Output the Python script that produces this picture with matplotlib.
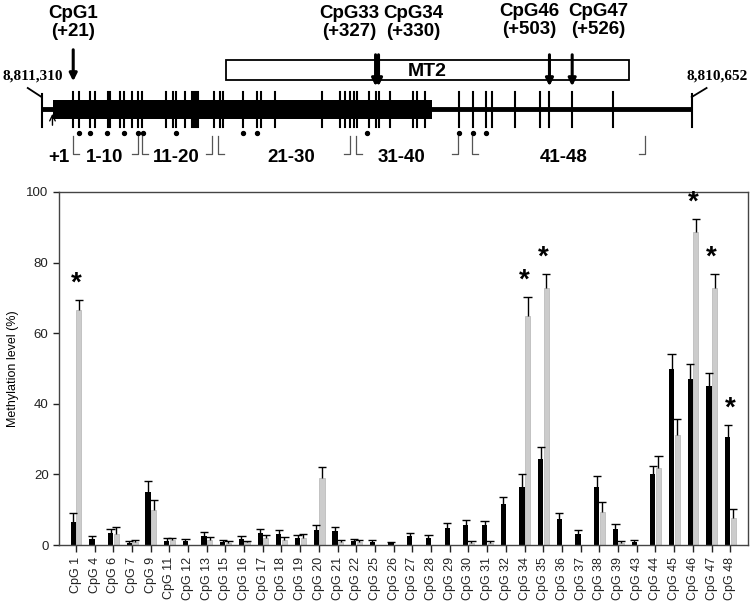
import numpy as np
import matplotlib
matplotlib.use('Agg')
import matplotlib.pyplot as plt
from matplotlib.patches import Rectangle

plt.rcParams['font.family'] = ['Liberation Sans', 'DejaVu Sans']

# bar chart data: CpG sites analysed, mean methylation and upper error
cpg_labels = [1, 4, 6, 7, 9, 11, 12, 13, 15, 16, 17, 18, 19, 20, 21, 22, 25, 26,
              27, 28, 29, 30, 31, 32, 34, 35, 36, 37, 38, 39, 43, 44, 45, 46, 47, 48]
black_vals = [6.4, 1.7, 3.3, 0.5, 15.0, 1.2, 1.0, 2.6, 0.8, 1.7, 3.3, 3.1, 2.1, 4.3, 3.9, 1.2, 0.9, 0.5,
              2.5, 2.0, 4.7, 5.6, 5.7, 11.6, 16.5, 24.3, 7.4, 3.1, 16.5, 4.5, 0.9, 20.1, 49.9, 46.9, 45.0, 30.7]
black_err = [2.8, 0.9, 1.1, 0.5, 3.0, 0.7, 0.6, 1.0, 0.5, 0.8, 1.3, 1.1, 0.7, 1.3, 1.1, 0.4, 0.5, 0.4,
             1.0, 0.7, 1.5, 1.4, 1.2, 2.1, 3.5, 3.6, 1.8, 1.1, 3.1, 1.4, 0.5, 2.4, 4.1, 4.3, 3.7, 3.3]
gray_vals = [66.5, 0, 3.1, 0.8, 9.9, 1.3, 0, 1.4, 0.6, 0.8, 1.9, 1.4, 2.1, 19.1, 0.9, 0.8, 0, 0,
             0, 0, 0, 0.5, 0.5, 0, 65.0, 72.7, 0, 0, 9.3, 0.5, 0, 21.7, 31.2, 88.8, 72.7, 7.7]
gray_err = [3.0, 0, 1.9, 0.5, 2.9, 0.8, 0, 0.8, 0.6, 0.2, 0.9, 0.8, 0.9, 2.9, 0.5, 0.5, 0, 0,
            0, 0, 0, 0.5, 0.7, 0, 5.2, 4.0, 0, 0, 3.0, 0.7, 0, 3.5, 4.4, 3.5, 4.0, 2.4]
star_sites = [1, 34, 35, 46, 47, 48]

# gene map data (bp from +1)
map_start, map_end = -11, 647
coord_left, coord_right = '8,811,310', '8,810,652'
island_start, island_end = 1, 384
mt2_start, mt2_end = 176, 583
cpg_pos = [21, 27, 38, 43, 56, 58, 68, 72, 81, 87, 91, 115, 122, 125, 134, 141, 143, 145, 147, 163,
           170, 173, 193, 207, 211, 225, 273, 291, 296, 301, 305, 308, 320, 327, 330, 342, 365, 369, 377, 411,
           426, 439, 445, 468, 493, 503, 526, 567]
dot_pos = [27, 38, 55, 72, 87, 92, 125, 193, 207, 318, 411, 426, 439]
groups = ['1-10', '11-20', '21-30', '31-40', '41-48']
group_left = [21, 91, 168, 307, 425]
group_right = [87, 161, 301, 410, 600]
group_text_x = [53, 125, 242, 353, 517]
arrow_sites = [21, 327, 330, 503, 526]
arrow_names = ['CpG1', 'CpG33', 'CpG34', 'CpG46', 'CpG47']
arrow_text_x = [21, 300, 365, 483, 552]

fig = plt.figure(figsize=(7.53, 6.04), dpi=100)

# ---- gene map ----
top = fig.add_axes([0, 1 - 180 / 604, 1, 180 / 604])
top.set_xlim(-53.1, 709)
top.set_ylim(180, 0)
top.axis('off')

top.plot([map_start, map_end], [109, 109], color='black', lw=3.5, solid_capstyle='butt')
top.add_patch(Rectangle((island_start, 100), island_end - island_start, 19, color='black', lw=0))
top.add_patch(Rectangle((mt2_start, 60), mt2_end - mt2_start, 19.5, fc='white', ec='black', lw=1.3))
top.text((mt2_start + mt2_end) / 2, 71, 'MT2', ha='center', va='center', fontsize=14, fontweight='bold')

for p in cpg_pos:
    top.plot([p, p], [92, 127], color='black', lw=1.5)
top.scatter(dot_pos, [133] * len(dot_pos), s=8, color='black', zorder=3)

# ends
for x0, dx, lab, lx in [(map_start, -14, coord_left, -20), (map_end, 15, coord_right, 673)]:
    top.plot([x0, x0], [94, 127], color='black', lw=1.5)
    top.plot([x0, x0 + dx], [97, 88], color='black', lw=1.3)
    top.text(lx, 76, lab, ha='center', va='center', fontsize=11, fontweight='bold',
             family='Liberation Serif')

top.annotate('', xy=(0, 111), xytext=(0, 128),
             arrowprops=dict(arrowstyle='->', lw=1.0, color='black', mutation_scale=10))
top.text(6, 157, '+1', ha='center', va='center', fontsize=13.5, fontweight='bold')

for name, gl, gr, gx in zip(groups, group_left, group_right, group_text_x):
    top.plot([gl, gl, gl + 6], [136, 154, 154], color='#555555', lw=0.9)
    top.plot([gr - 6, gr, gr], [154, 154, 136], color='#555555', lw=0.9)
    top.text(gx, 157, name, ha='center', va='center', fontsize=13.5, fontweight='bold')

for site, name, tx in zip(arrow_sites, arrow_names, arrow_text_x):
    y0 = 47 if site == 21 else 52
    y1 = 84 if site == 21 else 89
    ly = 0 if site < 400 else -2
    top.annotate('', xy=(site, y1), xytext=(site, y0),
                 arrowprops=dict(arrowstyle='-|>', lw=2.2, color='black', mutation_scale=11))
    top.text(tx, 13 + ly, name, ha='center', va='center', fontsize=13.5, fontweight='bold')
    top.text(tx, 32 + ly, '(+%d)' % site, ha='center', va='center', fontsize=13.5, fontweight='bold')

# ---- bar chart ----
ax = fig.add_axes([59 / 753, 1 - 545 / 604, 689 / 753, 353 / 604])
x = np.arange(len(cpg_labels))
w = 0.28
off_b, off_g = -0.14, 0.16
ax.bar(x + off_b, black_vals, w, color='black', zorder=2)
ax.bar(x + off_g, gray_vals, w, color='#cccccc', edgecolor='#b5b5b5', lw=0.5, zorder=2)

# upper error bars only
cap = 0.22
for off, vals, errs in [(off_b, black_vals, black_err), (off_g, gray_vals, gray_err)]:
    v = np.array(vals)
    e = np.array(errs)
    m = e > 0
    xs = x[m] + off
    ax.vlines(xs, v[m], v[m] + e[m], color='black', lw=1, zorder=3)
    ax.hlines(v[m] + e[m], xs - cap, xs + cap, color='black', lw=1, zorder=3)

for s in star_sites:
    i = cpg_labels.index(s)
    t = max(black_vals[i] + black_err[i], gray_vals[i] + gray_err[i])
    ax.text(i, t + 1.0, '*', ha='center', va='bottom', fontsize=20, fontweight='bold')

ax.set_xlim(-0.9, 35.95)
ax.set_ylim(0, 100)
ax.set_yticks([0, 20, 40, 60, 80, 100])
ax.set_xticks(x)
ax.set_xticklabels(['CpG %d' % c for c in cpg_labels], rotation=90, fontsize=9)
ax.tick_params(axis='y', labelsize=9.5, length=4, width=1, colors='#222222')
ax.tick_params(axis='x', length=5, width=1, colors='#222222')
ax.set_ylabel('Methylation level (%)', fontsize=9, labelpad=5)
for sp in ax.spines.values():
    sp.set_color('#444444')
    sp.set_linewidth(1)

fig.savefig('out.png', dpi=100)
